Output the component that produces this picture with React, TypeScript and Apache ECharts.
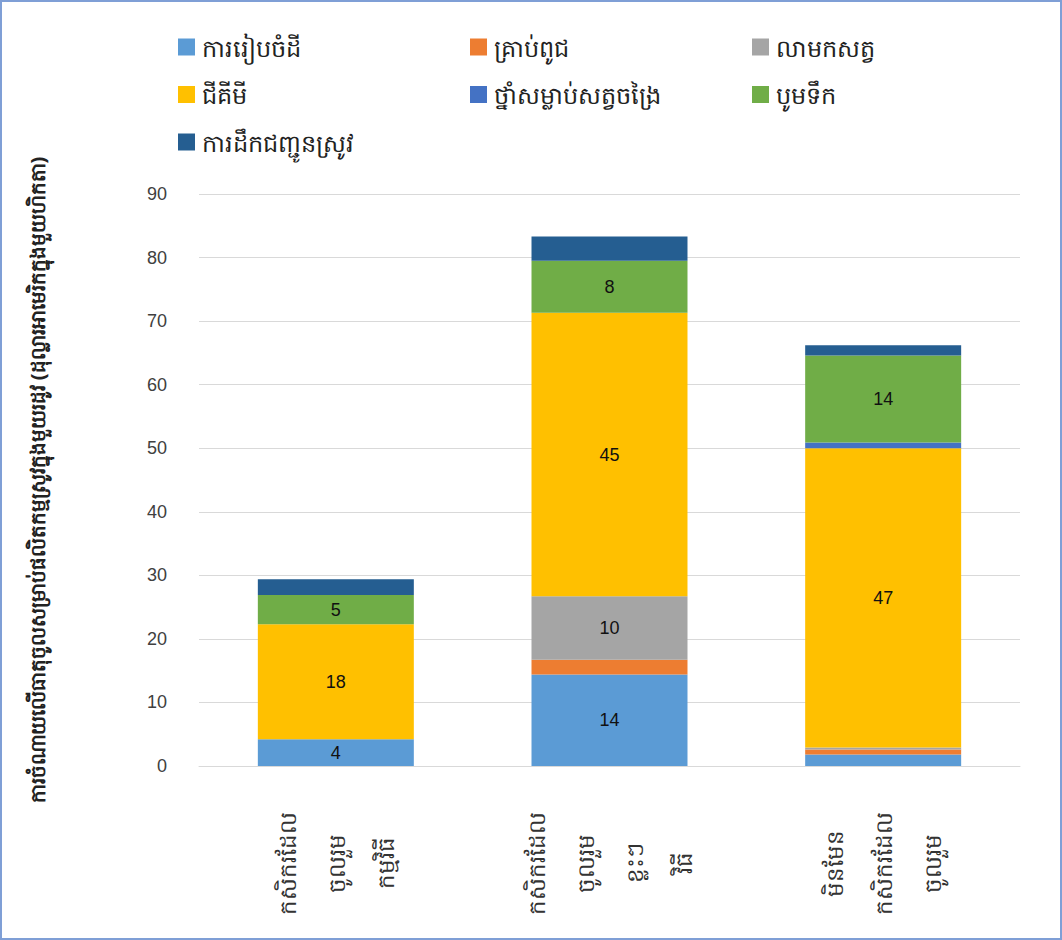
import React, { useEffect, useRef } from "react";
import * as echarts from "echarts";

// Categories (rotated, multi-line Khmer labels)
const categories = [
  "កសិករដែល\nចូលរួម\nកម្មវិធី",
  "កសិករដែល\nចូលរួម\nខ្លះៗ\nវិធី",
  "មិនមែន\nកសិករដែល\nចូលរួម",
];

const seriesNames = [
  "ការរៀបចំដី",
  "គ្រាប់ពូជ",
  "លាមកសត្វ",
  "ជីគីមី",
  "ថ្នាំសម្លាប់សត្វចង្រៃ",
  "បូមទឹក",
  "ការដឹកជញ្ជូនស្រូវ",
];

const landPrep = [4.2, 14.4, 1.8];
const seeds = [0, 2.3, 0.8];
const manure = [0, 10.0, 0.3];
const fertilizer = [18.1, 44.6, 47.1];
const pesticide = [0, 0, 0.9];
const waterPumping = [4.6, 8.2, 13.7];
const transport = [2.5, 3.8, 1.6];

const seriesColors = ["#5B9BD5", "#ED7D31", "#A5A5A5", "#FFC000", "#4472C4", "#70AD47", "#255E91"];

const yAxisName =
  "ការចំណាយលើធាតុចូលសម្រាប់ផលិតកម្មស្រូវក្នុងមួយរដូវ (ដុល្លារអាមេរិកក្នុងមួយហិកតា)";

const yTicks = { min: 0, max: 90, interval: 10 };

export default function App() {
  const ref = useRef<HTMLDivElement>(null);

  useEffect(() => {
    document.body.style.margin = "0";
    if (!ref.current) return;
    const chart = echarts.init(ref.current, undefined, { renderer: "svg" });
    const values = [landPrep, seeds, manure, fertilizer, pesticide, waterPumping, transport];
    const font = "'Liberation Sans', Arial, sans-serif";
    const khmerFont = "'Noto Sans', 'DejaVu Sans', sans-serif";
    const legendText = {
      fontSize: 24,
      color: "#222",
      lineHeight: 22,
      padding: [0, 0, 0, 2],
      fontFamily: khmerFont,
    };
    const legendBase = {
      orient: "vertical" as const,
      top: 28,
      itemWidth: 17,
      itemHeight: 17,
      itemGap: 23.5,
      icon: "rect",
      textStyle: legendText,
      selectedMode: false,
    };
    chart.setOption({
      animation: false,
      backgroundColor: "#ffffff",
      legend: [
        { ...legendBase, left: 171, data: [seriesNames[0], seriesNames[3], seriesNames[6]] },
        { ...legendBase, left: 463, data: [seriesNames[1], seriesNames[4]] },
        { ...legendBase, left: 745, data: [seriesNames[2], seriesNames[5]] },
      ],
      grid: { left: 197, right: 40, top: 192, bottom: 172, containLabel: false },
      xAxis: {
        type: "category",
        data: categories,
        axisLine: { show: true, lineStyle: { color: "#d9d9d9", width: 1 } },
        axisTick: { show: false },
        axisLabel: {
          interval: 0,
          rotate: 90,
          align: "center",
          verticalAlign: "middle",
          margin: 97,
          lineHeight: 49,
          fontSize: 23,
          color: "#333",
          fontFamily: khmerFont,
        },
      },
      yAxis: {
        type: "value",
        min: yTicks.min,
        max: yTicks.max,
        interval: yTicks.interval,
        name: yAxisName,
        nameLocation: "middle",
        nameRotate: 90,
        nameGap: 152,
        nameTextStyle: {
          fontSize: 20,
          fontWeight: "bold",
          color: "#222",
          fontFamily: khmerFont,
        },
        axisLine: { show: false },
        axisTick: { show: false },
        axisLabel: { margin: 32, fontSize: 18, color: "#404040", fontFamily: font },
        splitLine: { lineStyle: { color: "#d9d9d9", width: 1 } },
      },
      series: seriesNames.map((name, i) => ({
        name,
        type: "bar",
        stack: "total",
        barWidth: "57%",
        data: values[i],
        itemStyle: { color: seriesColors[i] },
        label: {
          show: true,
          position: "inside",
          color: "#111",
          fontSize: 18,
          fontFamily: font,
          formatter: (p: any) => (p.value >= 4 ? String(Math.round(p.value)) : ""),
        },
      })),
    });
    return () => chart.dispose();
  }, []);

  return (
    <div
      style={{
        width: 1062,
        height: 940,
        boxSizing: "border-box",
        border: "2px solid #7f9fd6",
        position: "relative",
        overflow: "hidden",
        background: "#fff",
      }}
    >
      <div ref={ref} style={{ width: 1058, height: 936 }} />
    </div>
  );
}
